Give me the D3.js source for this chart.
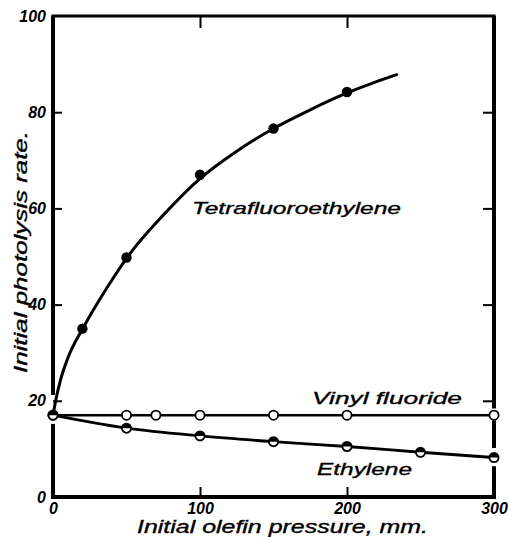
<!DOCTYPE html>
<html>
<head>
<meta charset="utf-8">
<script src="https://cdn.jsdelivr.net/npm/d3@7"></script>
<style>
  html, body { margin: 0; padding: 0; background: #fff; }
  svg { display: block; }
  text { font-family: "Liberation Sans", Arial, sans-serif; font-style: italic; fill: #000; }
</style>
</head>
<body>
<script>
// ---- data ----
const xTickValues = [0, 100, 200, 300];
const yTickValues = [0, 20, 40, 60, 80, 100];
const xInnerTicks = [100, 200];
const yInnerTicks = [20, 40, 60, 80];

const tetraX = [20, 50, 100, 150, 200];
const tetraY = [35, 49.8, 67, 76.6, 84.2];
// smooth fitted curve drawn through the tetrafluoroethylene data
const tetraFitX = [0, 2, 5, 10, 20.6, 36.5, 52.4, 75, 100, 125, 150, 175, 200, 217.9, 233.8];
const tetraFitY = [17, 20.3, 24.2, 28.8, 35.2, 43.4, 50.6, 58.6, 66.2, 71.9, 76.6, 80.5, 84.0, 86.1, 87.8];

const vinylX = [0, 50, 70, 100, 150, 200, 300];
const vinylY = [17, 17, 17, 17, 17, 17, 17];

const ethX = [0, 50, 100, 150, 200, 250, 300];
const ethY = [17, 14.3, 12.7, 11.5, 10.5, 9.3, 8.2];

const labels = ["Tetrafluoroethylene", "Vinyl fluoride", "Ethylene"];
const xTitle = "Initial olefin pressure, mm.";
const yTitle = "Initial photolysis rate.";

// ---- drawing ----
const W = 508, H = 537;
const svg = d3.select("body").append("svg").attr("width", W).attr("height", H);

const x = d3.scaleLinear().domain([0, 300]).range([53, 494]);
const y = d3.scaleLinear().domain([0, 100]).range([497, 16]);

// frame (with the breaks seen on the vertical axes)
const frame = svg.append("g").attr("stroke", "#000").attr("fill", "none").attr("stroke-linecap", "square");
frame.append("line").attr("x1", x(0)).attr("x2", x(300)).attr("y1", y(100)).attr("y2", y(100)).attr("stroke-width", 3.2);
frame.append("line").attr("x1", x(0)).attr("x2", x(300)).attr("y1", y(0)).attr("y2", y(0)).attr("stroke-width", 4);
// left axis: 0..15.2 and 21.2..100
[[0, 15.2], [21.2, 100]].forEach(([a, b]) => {
  frame.append("line").attr("x1", x(0)).attr("x2", x(0)).attr("y1", y(a)).attr("y2", y(b)).attr("stroke-width", 4).attr("stroke-linecap", "butt");
});
// right axis: gaps around the markers at x = 300
[[0, 6.4], [10.2, 15.9], [18.4, 100]].forEach(([a, b]) => {
  frame.append("line").attr("x1", x(300)).attr("x2", x(300)).attr("y1", y(a)).attr("y2", y(b)).attr("stroke-width", 4).attr("stroke-linecap", "butt");
});

function styleAxis(g) {
  g.select(".domain").remove();
  g.selectAll(".tick line").attr("stroke", "#000").attr("stroke-width", 2);
  g.selectAll(".tick text").attr("font-size", 16).attr("font-weight", "bold")
    .attr("font-family", "'Liberation Sans', Arial, sans-serif").attr("font-style", "italic").attr("fill", "#000");
}

const gl = svg.append("g").attr("transform", `translate(${x(0)},0)`)
  .call(d3.axisLeft(y).tickValues(yTickValues).tickSizeInner(-9).tickSizeOuter(0).tickPadding(7).tickFormat(d3.format("d")));
styleAxis(gl);
gl.selectAll(".tick").filter(d => !yInnerTicks.includes(d)).select("line").remove();

const gr = svg.append("g").attr("transform", `translate(${x(300)},0)`)
  .call(d3.axisRight(y).tickValues(yInnerTicks).tickSizeInner(-11).tickSizeOuter(0).tickFormat(""));
styleAxis(gr);

const gt = svg.append("g").attr("transform", `translate(0,${y(100)})`)
  .call(d3.axisTop(x).tickValues(xInnerTicks).tickSizeInner(-12).tickSizeOuter(0).tickFormat(""));
styleAxis(gt);

const gb = svg.append("g").attr("transform", `translate(0,${y(0)})`)
  .call(d3.axisBottom(x).tickValues(xTickValues).tickSizeInner(-10).tickSizeOuter(0).tickPadding(5.5).tickFormat(d3.format("d")));
styleAxis(gb);
gb.selectAll(".tick").filter(d => !xInnerTicks.includes(d)).select("line").remove();

// lines
const lineGen = d3.line().x(d => x(d[0])).y(d => y(d[1]));
const lines = svg.append("g").attr("fill", "none").attr("stroke", "#000").attr("stroke-linejoin", "round").attr("stroke-linecap", "round");
lines.append("path").attr("d", lineGen.curve(d3.curveMonotoneX)(d3.zip(tetraFitX, tetraFitY))).attr("stroke-width", 3);
lines.append("path").attr("d", lineGen.curve(d3.curveLinear)(d3.zip(vinylX, vinylY))).attr("stroke-width", 2.6);
lines.append("path").attr("d", lineGen.curve(d3.curveMonotoneX)(d3.zip(ethX, ethY))).attr("stroke-width", 2.8);

// markers
const r = 4.6;
svg.append("g").selectAll("circle").data(d3.zip(vinylX, vinylY)).join("circle")
  .attr("cx", d => x(d[0])).attr("cy", d => y(d[1])).attr("r", r)
  .attr("fill", "#fff").attr("stroke", "#000").attr("stroke-width", 1.8);

const eth = svg.append("g").selectAll("g").data(d3.zip(ethX, ethY)).join("g")
  .attr("transform", d => `translate(${x(d[0])},${y(d[1])})`);
eth.append("circle").attr("r", r).attr("fill", "#fff").attr("stroke", "#000").attr("stroke-width", 1.8);
eth.append("path").attr("d", d3.arc().innerRadius(0).outerRadius(r)({ startAngle: -Math.PI / 2, endAngle: Math.PI / 2 })).attr("fill", "#000");

svg.append("g").selectAll("circle").data(d3.zip(tetraX, tetraY)).join("circle")
  .attr("cx", d => x(d[0])).attr("cy", d => y(d[1])).attr("r", 5.2).attr("fill", "#000");

// curve labels
const labelPos = [[192, 214, 209], [312, 404, 150], [317, 475, 95]];
labels.forEach((t, i) => {
  const [lx, ly, len] = labelPos[i];
  svg.append("text").attr("x", lx).attr("y", ly).attr("font-size", 17)
    .attr("textLength", len).attr("lengthAdjust", "spacingAndGlyphs")
    .attr("stroke", "#000").attr("stroke-width", 0.35)
    .text(t);
});

// axis titles
svg.append("text").attr("x", 137).attr("y", 533).attr("font-size", 17.5)
  .attr("textLength", 291).attr("lengthAdjust", "spacingAndGlyphs")
  .attr("stroke", "#000").attr("stroke-width", 0.35).text(xTitle);
svg.append("text").attr("transform", "translate(27,373) rotate(-90)").attr("font-size", 18.5)
  .attr("textLength", 242).attr("lengthAdjust", "spacingAndGlyphs")
  .attr("stroke", "#000").attr("stroke-width", 0.35).text(yTitle);
</script>
</body>
</html>
